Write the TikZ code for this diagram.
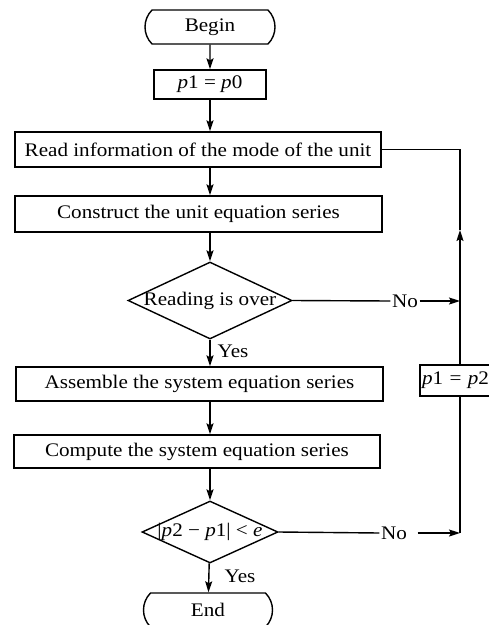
\documentclass[tikz,border=0pt]{standalone}
\usepackage{fontspec}
\setmainfont[FakeStretch=1.1]{Liberation Serif}
\usetikzlibrary{shapes.geometric, shapes.misc, arrows.meta}

\begin{document}
\begin{tikzpicture}[x=1pt, y=-1pt, line width=1.4pt,
    font=\fontsize{19.2}{22}\selectfont,
    every node/.style={inner sep=1pt},
    term/.style={draw, rounded rectangle, rounded rectangle arc length=90,
      minimum width=132pt, minimum height=34pt},
    box/.style={draw, rectangle},
    dia/.style={draw, diamond, inner sep=0pt},
    flow/.style={-{Stealth[length=11pt, width=7pt, inset=2pt]}}]
      \useasboundingbox (0, 0) rectangle (489, 625);
      \node [term] (begin) at (210, 27) {Begin};
      \node [box, minimum width=112pt, minimum height=29pt] (p0) at (210, 84.5) {\textit{p}1 = \textit{p}0};
      \node [box, minimum width=366pt, minimum height=35pt] (read) at (198, 149.5) {Read information of the mode of the unit};
      \node [box, minimum width=367pt, minimum height=36pt] (unit) at (198.5, 214) {Construct the unit equation series};
      \node [dia, minimum width=164pt, minimum height=77pt] (over) at (210, 300.5) {\makebox[0pt]{Reading is over}};
      \node [box, minimum width=367pt, minimum height=34pt] (assemble) at (199.5, 384) {Assemble the system equation series};
      \node [box, minimum width=366pt, minimum height=33pt] (compute) at (197, 451.5) {Compute the system equation series};
      \node [dia, minimum width=136pt, minimum height=62pt] (check) at (210, 532) {\makebox[0pt]{|\textit{p}2 − \textit{p}1| < \textit{e}}};
      \node [term, minimum width=131pt] (end) at (208, 610) {End};
      \node [box, text width=76pt, minimum height=31pt, inner sep=2pt, align=left] (update) at (460, 380.5) {\textit{p}1 = \textit{p}2};
      \node (no1) at (405, 301) {No};
      \node (no2) at (394, 533) {No};
      \node [anchor=west] (yes1) at (216, 351) {Yes};
      \node [anchor=west] (yes2) at (223, 576) {Yes};
      \coordinate (in1) at (460, 301);
      \coordinate (in2) at (460, 533);
      \coordinate (up) at (460, 230);
      \draw [flow] (begin) -- (p0);
      \draw [flow] (p0) -- (p0 |- read.north);
      \draw [flow] (p0 |- read.south) -- (p0 |- unit.north);
      \draw [flow] (p0 |- unit.south) -- (over);
      \draw [flow] (over) -- (over |- assemble.north);
      \draw [flow] (over |- assemble.south) -- (over |- compute.north);
      \draw [flow] (over |- compute.south) -- (check);
      \draw [flow] (check) -- (end);
      \draw (over.east) -- (no1.west);
      \draw [flow] (no1) -- (in1);
      \draw (check.east) -- (no2.west);
      \draw [flow] ([xshift=9pt]no2.east) -- (in2);
      \draw (in2) -- (update);
      \draw [flow] (update) -- (up);
      \draw (up) -- (up |- read.east) -- (read.east);
    \end{tikzpicture}
\end{document}
